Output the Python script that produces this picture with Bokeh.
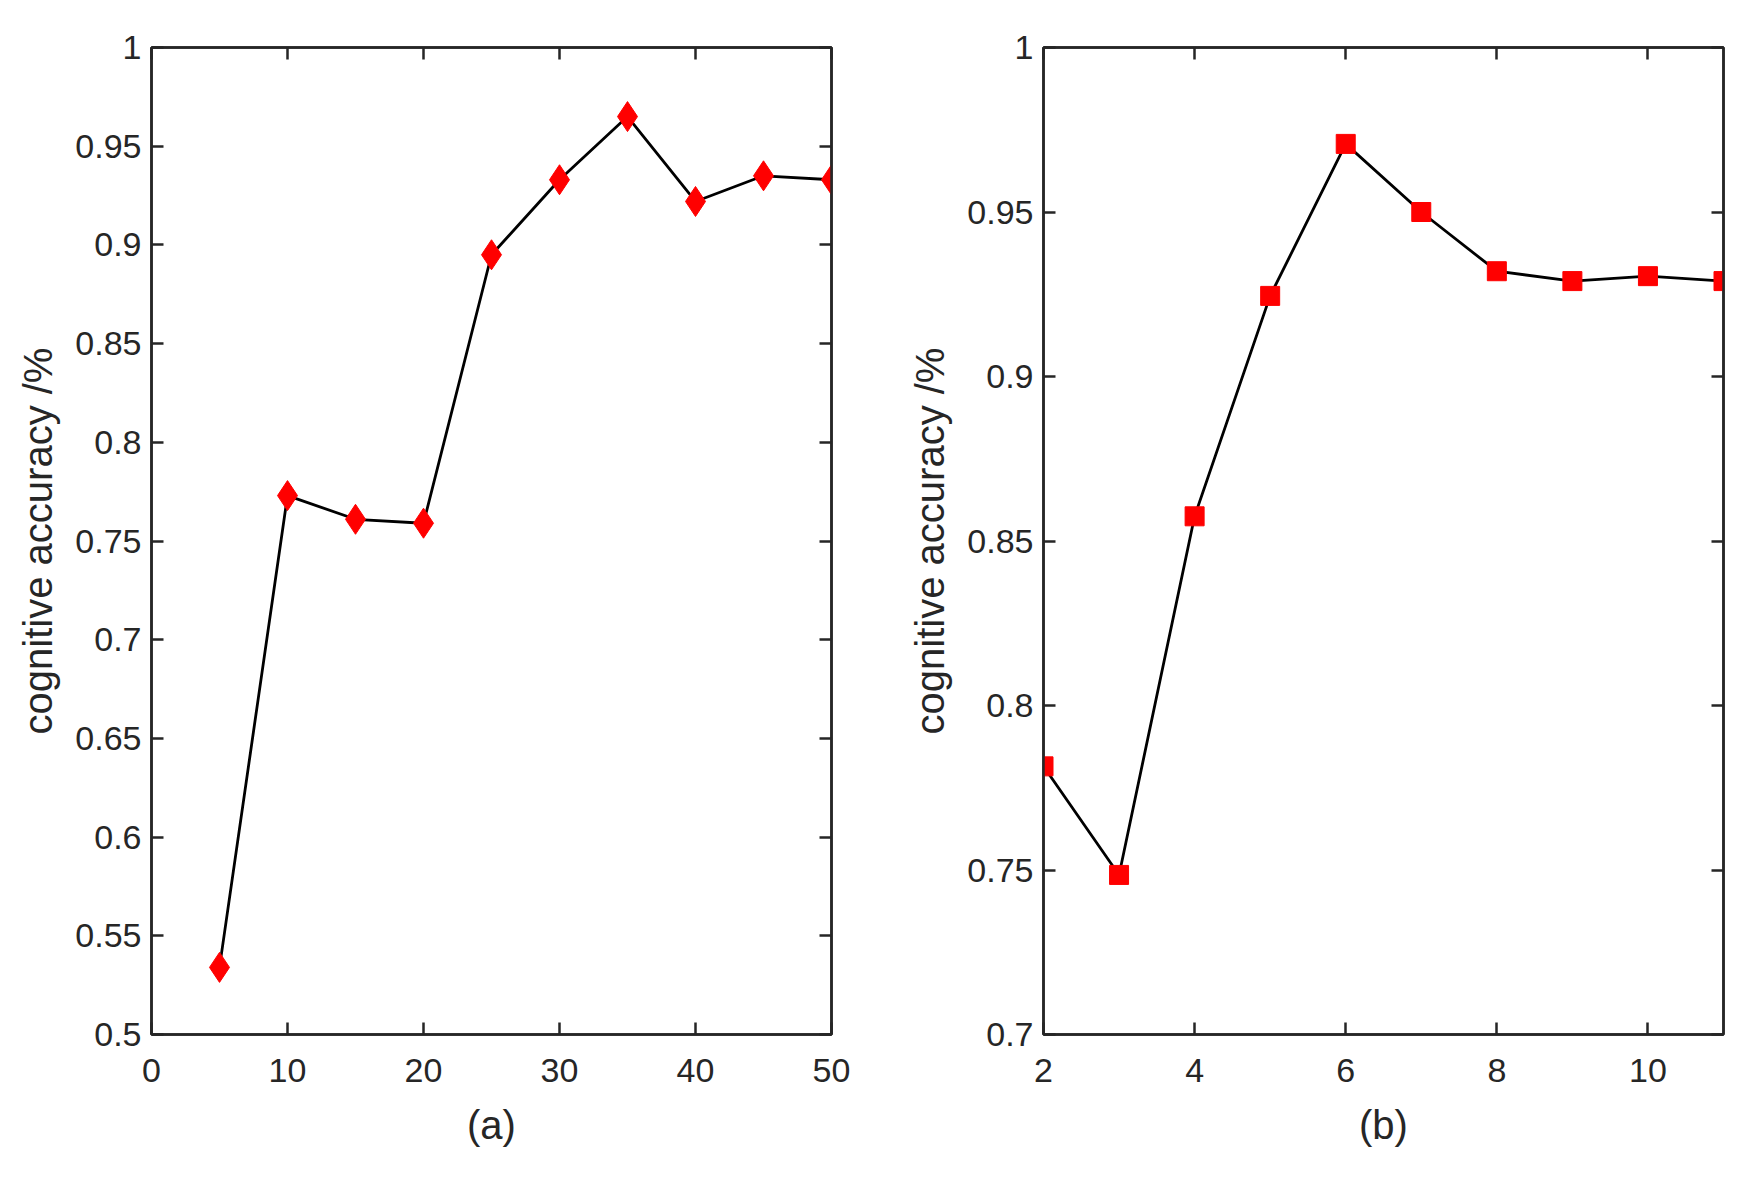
from bokeh.plotting import figure
from bokeh.layouts import row
from bokeh.models import Range1d, FixedTicker, LinearAxis, CustomJSTickFormatter
from bokeh.embed import file_html
from bokeh.resources import INLINE

# ---- data ----
a_x = [5, 10, 15, 20, 25, 30, 35, 40, 45, 50]
a_y = [0.534, 0.773, 0.761, 0.759, 0.895, 0.933, 0.965, 0.922, 0.935, 0.933]

b_x = [2, 3, 4, 5, 6, 7, 8, 9, 10, 11]
b_y = [0.7815, 0.7485, 0.8575, 0.9245, 0.9707, 0.950, 0.932, 0.929, 0.9305, 0.929]

a_xticks = [0, 10, 20, 30, 40, 50]
a_xlabels = ["0", "10", "20", "30", "40", "50"]
a_yticks = [0.5, 0.55, 0.6, 0.65, 0.7, 0.75, 0.8, 0.85, 0.9, 0.95, 1.0]
a_ylabels = ["0.5", "0.55", "0.6", "0.65", "0.7", "0.75", "0.8", "0.85", "0.9", "0.95", "1"]

b_xticks = [2, 4, 6, 8, 10]
b_xlabels = ["2", "4", "6", "8", "10"]
b_yticks = [0.7, 0.75, 0.8, 0.85, 0.9, 0.95, 1.0]
b_ylabels = ["0.7", "0.75", "0.8", "0.85", "0.9", "0.95", "1"]

y_title = "cognitive accuracy /%"

AX = "#262626"
FONT = "Liberation Sans"


def style_axis(ax, ticks, labels, show_labels, standoff):
    ax.ticker = FixedTicker(ticks=ticks)
    ax.axis_line_color = AX
    ax.axis_line_width = 2.5
    ax.major_tick_line_color = AX
    ax.major_tick_line_width = 2.5
    ax.major_tick_in = 12
    ax.major_tick_out = 0
    ax.minor_tick_line_color = None
    ax.major_label_text_font = FONT
    ax.major_label_text_color = AX
    ax.axis_label_text_font = FONT
    ax.axis_label_text_color = AX
    ax.axis_label_text_font_style = "normal"
    ax.axis_label_text_font_size = "40px"
    if show_labels:
        ax.major_label_overrides = {t: l for t, l in zip(ticks, labels)}
        ax.major_label_text_font_size = "34px"
        ax.major_label_standoff = standoff
    else:
        ax.formatter = CustomJSTickFormatter(code="return '';")
        ax.major_label_standoff = 0


def make(xs, ys, xr, yr, xt, xl, yt, yl, xlabel, marker, msize, lb, rb):
    p = figure(frame_width=680, frame_height=987,
               min_border_left=lb, min_border_right=rb,
               min_border_top=47, min_border_bottom=120,
               x_range=Range1d(*xr), y_range=Range1d(*yr),
               output_backend="svg", toolbar_location=None,
               background_fill_color="white", border_fill_color="white")
    p.grid.visible = False
    p.outline_line_color = AX
    p.outline_line_width = 2.5
    style_axis(p.xaxis[0], xt, xl, True, 24)
    style_axis(p.yaxis[0], yt, yl, True, 10)
    p.xaxis[0].axis_label = xlabel
    p.xaxis[0].axis_label_standoff = 18
    p.yaxis[0].axis_label = y_title
    p.yaxis[0].axis_label_standoff = 12
    top = LinearAxis()
    style_axis(top, xt, xl, False, 0)
    p.add_layout(top, "above")
    right = LinearAxis()
    style_axis(right, yt, yl, False, 0)
    p.add_layout(right, "right")
    p.line(xs, ys, line_color="black", line_width=2.8)
    p.scatter(xs, ys, marker=marker, size=msize, fill_color="red",
              line_color="red", line_width=1)
    return p


p1 = make(a_x, a_y, (0, 50), (0.5, 1.0), a_xticks, a_xlabels, a_yticks, a_ylabels,
          "(a)", "diamond", 30, 151, 60)
p2 = make(b_x, b_y, (2, 11), (0.7, 1.0), b_xticks, b_xlabels, b_yticks, b_ylabels,
          "(b)", "square", 19, 152, 15)

layout = row(p1, p2)
open("out.html", "w").write(file_html(layout, INLINE))
